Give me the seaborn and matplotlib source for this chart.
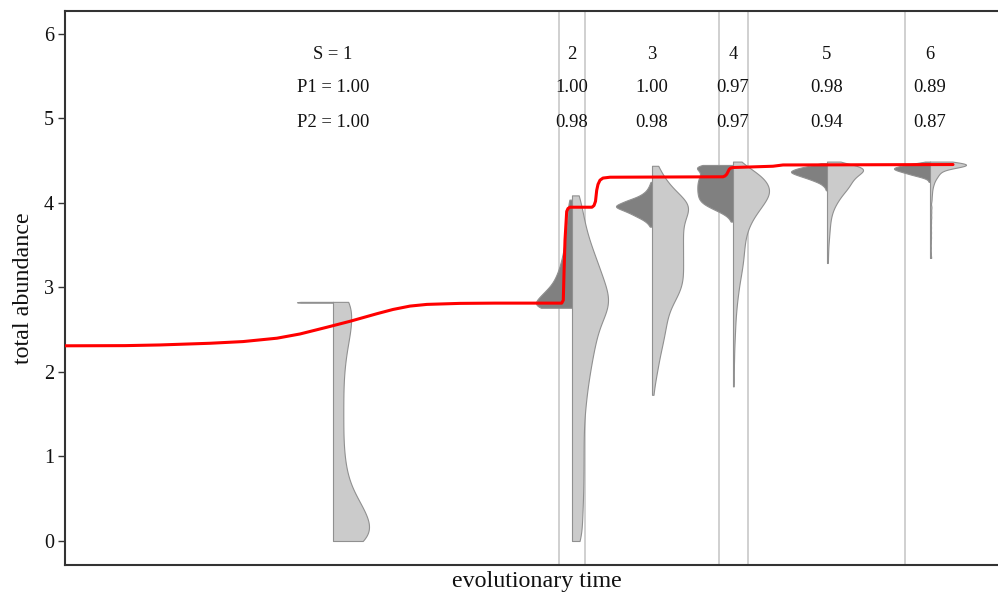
import numpy as np
import pandas as pd
import matplotlib
matplotlib.use("Agg")
import matplotlib.pyplot as plt
import seaborn as sns

# ---------------- data ----------------
species_numbers = [1, 2, 3, 4, 5, 6]
violin_times = [268, 507, 587, 668, 762, 865]
event_times = [494, 520, 654, 683, 839.5]
p1_values = ["1.00", "1.00", "1.00", "0.97", "0.98", "0.89"]
p2_values = ["1.00", "0.98", "0.98", "0.97", "0.94", "0.87"]

line_time = [0, 60, 95, 145, 178, 212, 235, 262, 285, 312, 328, 345, 362, 395, 430,
             496.7, 498.3, 499, 500, 501.7, 503, 505, 527, 529, 530.5, 531.7, 533, 535,
             538, 545, 658, 660, 661.7, 663, 664.3, 666, 668.3, 695, 708, 718, 888]
line_abundance = [2.31, 2.312, 2.32, 2.34, 2.36, 2.40, 2.45, 2.53, 2.60, 2.69, 2.74,
                  2.78, 2.80, 2.812, 2.815, 2.815, 2.85, 3.17, 3.56, 3.90, 3.935, 3.95,
                  3.95, 3.97, 4.02, 4.15, 4.22, 4.27, 4.295, 4.305, 4.31, 4.32, 4.34,
                  4.37, 4.40, 4.415, 4.42, 4.43, 4.435, 4.45, 4.455]

# distributions: abundance levels and how many samples sit at each level
s1_dark_levels = [2.82, 2.83]
s1_dark_counts = [1, 1]
s1_light_levels = [0.0, 0.2, 0.4, 0.6, 0.8, 1.0, 1.2, 1.4, 1.6, 1.8, 2.0, 2.2, 2.4, 2.6, 2.83]
s1_light_counts = [110, 102, 80, 50, 36, 30, 27, 27, 27, 27, 29, 34, 42, 53, 62]

s2_dark_levels = [2.76, 2.84, 2.92, 3.00, 3.08, 3.16, 3.24, 3.32, 3.40, 3.48, 3.56, 3.64,
                  3.72, 3.80, 3.88, 3.96, 4.04]
s2_dark_counts = [130, 100, 85, 63, 50, 42, 35, 30, 26, 22, 20, 17, 15, 13, 12, 11, 9]
s2_light_levels = [0.0, 0.2, 0.4, 0.6, 0.8, 1.0, 1.2, 1.4, 1.6, 1.8, 2.0, 2.2, 2.4, 2.6,
                   2.8, 3.0, 3.2, 3.4, 3.6, 3.8, 4.0, 4.09]
s2_light_counts = [28, 26, 29, 30, 31, 31, 31, 32, 36, 41, 48, 56, 65, 76, 110, 92, 76,
                   60, 42, 33, 18, 14]

s3_dark_levels = [3.72, 3.75, 3.78, 3.81, 3.84, 3.87, 3.90, 3.93, 3.96, 3.99, 4.02, 4.05,
                  4.08, 4.11, 4.14, 4.17, 4.20, 4.23, 4.25]
s3_dark_counts = [7, 9, 17, 27, 42, 54, 69, 85, 108, 86, 74, 54, 35, 25, 16, 12, 8, 5, 3]
s3_light_levels = [1.73, 1.87, 2.01, 2.15, 2.29, 2.43, 2.57, 2.71, 2.85, 2.99, 3.13, 3.27,
                   3.41, 3.55, 3.69, 3.83, 3.97, 4.11, 4.25, 4.39, 4.44]
s3_light_counts = [4, 8, 15, 20, 28, 35, 41, 46, 65, 85, 89, 88, 88, 88, 87, 90, 125, 72,
                   42, 18, 8]

s4_dark_levels = [3.78, 3.83, 3.88, 3.93, 3.98, 4.03, 4.08, 4.13, 4.18, 4.23, 4.28, 4.33,
                  4.38, 4.42, 4.45]
s4_dark_counts = [7, 10, 30, 57, 82, 95, 98, 100, 100, 100, 97, 93, 80, 70, 105]
s4_light_levels = [1.83, 1.93, 2.03, 2.13, 2.23, 2.33, 2.43, 2.53, 2.63, 2.73, 2.83, 2.93,
                   3.03, 3.13, 3.23, 3.33, 3.43, 3.53, 3.63, 3.73, 3.83, 3.93, 4.03, 4.13,
                   4.23, 4.33, 4.43, 4.49]
s4_light_counts = [3, 2, 2, 3, 3, 4, 5, 6, 7, 9, 11, 14, 17, 21, 25, 28, 30, 32, 36, 44,
                   56, 73, 90, 104, 96, 78, 35, 8]

s5_dark_levels = [4.15, 4.17, 4.19, 4.21, 4.23, 4.25, 4.27, 4.29, 4.31, 4.33, 4.35, 4.37,
                  4.39, 4.41, 4.43, 4.45, 4.47]
s5_dark_counts = [4, 4, 7, 12, 18, 28, 40, 52, 66, 80, 92, 102, 92, 80, 60, 36, 14]
s5_light_levels = [3.29, 3.35, 3.41, 3.47, 3.53, 3.59, 3.65, 3.71, 3.77, 3.83, 3.89, 3.95,
                   4.01, 4.07, 4.13, 4.19, 4.25, 4.31, 4.37, 4.43, 4.49]
s5_light_counts = [3, 2, 3, 3, 4, 5, 6, 7, 8, 10, 13, 18, 25, 33, 43, 54, 60, 68, 88, 112, 8]

s6_dark_levels = [4.25, 4.265, 4.28, 4.295, 4.31, 4.325, 4.34, 4.355, 4.37, 4.385, 4.40,
                  4.415, 4.43, 4.445, 4.46, 4.475, 4.49]
s6_dark_counts = [5, 4, 8, 16, 28, 42, 55, 66, 78, 90, 98, 100, 88, 76, 55, 35, 8]
s6_light_levels = [3.35, 3.41, 3.47, 3.53, 3.59, 3.65, 3.71, 3.77, 3.83, 3.89, 3.95, 4.01,
                   4.04, 4.07, 4.10, 4.13, 4.16, 4.19, 4.22, 4.25, 4.28, 4.31, 4.34, 4.37,
                   4.40, 4.43, 4.46, 4.49]
s6_light_counts = [6, 4, 4, 4, 5, 5, 5, 5, 6, 6, 7, 4, 4, 4, 5, 5, 6, 7, 9, 11, 14, 19,
                   22, 28, 38, 85, 115, 55]

# ---------------- build long table ----------------
halves = [
    (violin_times[0], "dark", s1_dark_levels, s1_dark_counts),
    (violin_times[0], "light", s1_light_levels, s1_light_counts),
    (violin_times[1], "dark", s2_dark_levels, s2_dark_counts),
    (violin_times[1], "light", s2_light_levels, s2_light_counts),
    (violin_times[2], "dark", s3_dark_levels, s3_dark_counts),
    (violin_times[2], "light", s3_light_levels, s3_light_counts),
    (violin_times[3], "dark", s4_dark_levels, s4_dark_counts),
    (violin_times[3], "light", s4_light_levels, s4_light_counts),
    (violin_times[4], "dark", s5_dark_levels, s5_dark_counts),
    (violin_times[4], "light", s5_light_levels, s5_light_counts),
    (violin_times[5], "dark", s6_dark_levels, s6_dark_counts),
    (violin_times[5], "light", s6_light_levels, s6_light_counts),
]
frames = []
for t, half, lv, ct in halves:
    vals = np.repeat(np.asarray(lv, dtype=float), ct)
    frames.append(pd.DataFrame({"time": float(t), "half": half, "abundance": vals}))
df = pd.concat(frames, ignore_index=True)


def grid_bandwidth(kde):
    """Bandwidth tied to the spacing of the abundance levels of each distribution."""
    values = np.asarray(kde.dataset).ravel()
    step = np.median(np.diff(np.unique(values)))
    sd = values.std(ddof=1)
    return step / sd


# ---------------- figure ----------------
sns.set_theme(style="ticks")
plt.rcParams["font.family"] = ["Liberation Serif", "DejaVu Serif"]

fig = plt.figure(figsize=(9.98, 5.97), dpi=100)
ax = fig.add_axes([65 / 998, 32 / 597, 944 / 998, 554 / 597])

for et in event_times:
    ax.axvline(et, color="#d0d0d0", lw=1.4, zorder=0)

sns.violinplot(
    data=df, x="time", y="abundance", hue="half", hue_order=["dark", "light"],
    orient="x", split=True, native_scale=True, inner=None, cut=0,
    density_norm="width", width=0.9, bw_method=grid_bandwidth, bw_adjust=0.85,
    gridsize=200, palette={"dark": "#808080", "light": "#cbcbcb"}, saturation=1,
    linecolor="#909090", linewidth=0.8, legend=False, ax=ax,
)

sns.lineplot(x=line_time, y=line_abundance, color="#ff0000", lw=2.2,
             estimator=None, sort=False, ax=ax, zorder=5)

# annotations
for i, (s, p1, p2, t) in enumerate(zip(species_numbers, p1_values, p2_values, violin_times)):
    if i == 0:
        labels = [f"S = {s}", f"P1 = {p1}", f"P2 = {p2}"]
    else:
        labels = [f"{s}", p1, p2]
    for lab, yv in zip(labels, [5.70, 5.31, 4.90]):
        ax.text(t, yv, lab, ha="center", va="baseline", fontsize=13.4, color="#111111")

ax.set_xlim(0, 944)
ax.set_ylim(-0.284, 6.272)
ax.set_yticks([0, 1, 2, 3, 4, 5, 6])
ax.set_xticks([])
ax.set_xlabel("evolutionary time", fontsize=17.3, labelpad=4, color="#111111")
ax.set_ylabel("total abundance", fontsize=17.3, labelpad=7, color="#111111")
ax.tick_params(axis="y", length=5, width=1, color="#333333", labelsize=14.5, pad=3,
               labelcolor="#111111")

for side in ["left", "bottom", "top"]:
    ax.spines[side].set_visible(True)
    ax.spines[side].set_color("#333333")
    ax.spines[side].set_linewidth(1.5)
ax.spines["right"].set_visible(False)

fig.savefig("out.png", dpi=100)
